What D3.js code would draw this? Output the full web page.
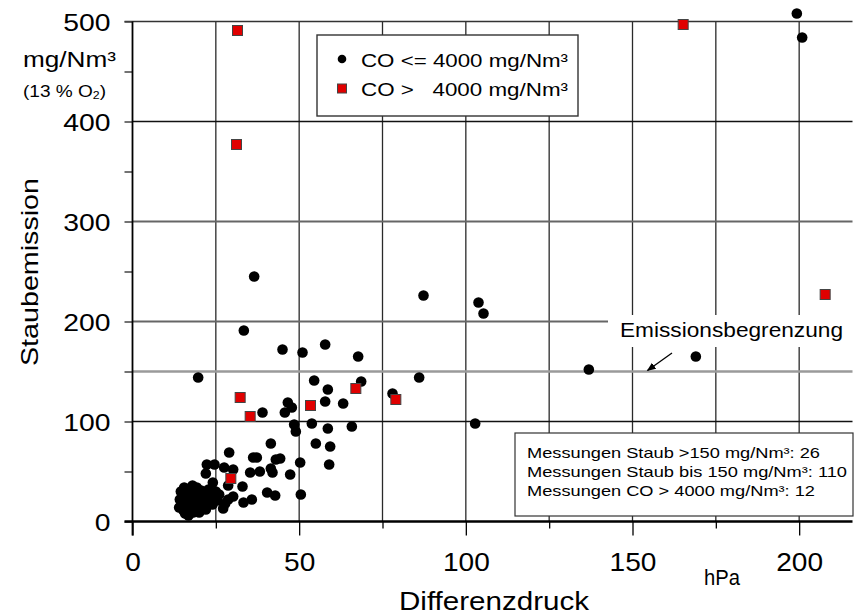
<!DOCTYPE html>
<html><head><meta charset="utf-8">
<script src="https://cdn.jsdelivr.net/npm/d3@7"></script>
<style>
body{margin:0;background:#fff}
text{font-family:"Liberation Sans",Arial,Helvetica,sans-serif;fill:#000}
</style></head><body>
<svg id="c" width="856" height="616"></svg>
<script>
// ---- data ----
const xMajorTicks = [0, 50, 100, 150, 200];
const xMinorTicks = [25, 75, 125, 175];
const xGridValues = [25, 50, 75, 100, 125, 150, 175, 200];
const yLabelTicks = [0, 100, 200, 300, 400, 500];
const yTickValues = [0, 50, 100, 150, 200, 250, 300, 350, 400, 450, 500];
const yGridBlack = [100, 400];
const yGridGray = [200, 300];
const limitValue = 150;
const xTitle = "Differenzdruck";
const xUnit = "hPa";
const yTitle = "Staubemission";
const yUnit = "mg/Nm³";
const limitLabel = "Emissionsbegrenzung";
const legendLabels = ["CO <= 4000 mg/Nm³", "CO >   4000 mg/Nm³"];
const statsLines = [
  "Messungen Staub >150 mg/Nm³: 26",
  "Messungen Staub bis 150 mg/Nm³: 110",
  "Messungen CO > 4000 mg/Nm³: 12"
];
// CO <= 4000 : [Differenzdruck hPa, Staub mg/Nm³]
const lowCO = [
  [199.3,508],[200.9,484],[87.3,226],[103.8,219],[105.3,208],[169,165],[136.9,152],[86,144],[102.8,98],
  [36.5,245],[33.4,191],[45,172],[51,169],[57.8,177],[67.7,165],[19.7,144],[54.5,141],[68.6,140],
  [58.6,132],[78,128],[57.8,120],[63.2,118],[46.6,119],[47.8,114],[45.7,109],[39,109],[48.5,97],
  [53.8,98],[58.6,93],[49,90],[65.8,95],[55,78],[59.3,75],[50.3,59],[59,57],[47.3,47],[50.5,27],[44.3,63],
  [41.5,78],[29,69],[36.2,64],[37.3,64],[43,62],[24.6,57],[27.5,54],[30.2,52],[35.3,49],[38.2,50],
  [41.5,53],[42,49],[24.1,39],[28.7,36],[33,35],[25.2,27],[30.2,25],[28.7,22],[33.3,19],[35.8,22],
  [40.4,29],[42.8,26],[27.2,13],[27.8,18],[22.3,57],[22,48],
  [14,14],[14.2,22],[14.5,30],[14.8,18],[15,26],[15.3,11],[15.5,34],[15.8,8],[16,20],[16.2,15],
  [16.5,28],[16.8,6],[17,24],[17.2,33],[17.5,12],[17.8,18],[18,30],[18.2,9],[18.5,22],[18.8,15],
  [19,27],[19.3,34],[19.6,12],[20,19],[20.3,25],[20.6,31],[21,15],[21.3,22],[21.6,28],[22,18],
  [22.4,25],[22.8,32],[23.2,21],[23.6,27],[24,17],[24.5,24],[25,30],[25.5,21],[26,27],[20,9],[18,36],[22,12]
];
// CO > 4000
const highCO = [
  [31.5,491],[31.2,377],[165.2,497],[207.8,227],[32.3,124],[35.3,105],[53.4,116],[67,133],[79,122],[29.5,43]
];

// ---- chart ----
const svg = d3.select("#c");
const L = 132.5, R = 852.5, T = 21.5, B = 521.5;
const x = d3.scaleLinear().domain([0, 216]).range([L, R]);
const y = d3.scaleLinear().domain([0, 500]).range([B, T]);

function stretch(sel, k) {
  sel.each(function () {
    const w = this.getComputedTextLength();
    this.setAttribute("textLength", w * k);
    this.setAttribute("lengthAdjust", "spacingAndGlyphs");
  });
}
function fitWidth(sel, w) {
  sel.attr("textLength", w).attr("lengthAdjust", "spacingAndGlyphs");
}

// vertical grid
svg.append("g").selectAll("line").data(xGridValues).join("line")
  .attr("x1", d => x(d)).attr("x2", d => x(d)).attr("y1", T).attr("y2", B)
  .attr("stroke", "#2a2a2a").attr("stroke-width", 1.3);
// horizontal grid
svg.append("g").selectAll("line").data(yGridGray).join("line")
  .attr("x1", L).attr("x2", R).attr("y1", d => y(d)).attr("y2", d => y(d))
  .attr("stroke", "#666").attr("stroke-width", 2);
svg.append("g").selectAll("line").data(yGridBlack).join("line")
  .attr("x1", L).attr("x2", R).attr("y1", d => y(d)).attr("y2", d => y(d))
  .attr("stroke", "#111").attr("stroke-width", 1.6);
// top frame
svg.append("line").attr("x1", L - 8).attr("x2", R).attr("y1", y(500)).attr("y2", y(500))
  .attr("stroke", "#333").attr("stroke-width", 1.6);
// limit line
svg.append("line").attr("x1", L).attr("x2", R).attr("y1", y(limitValue)).attr("y2", y(limitValue))
  .attr("stroke", "#9a9a9a").attr("stroke-width", 2.6);

// limit label with white background
svg.append("rect").attr("x", 608).attr("y", 315).attr("width", 250).attr("height", 32).attr("fill", "#fff");
svg.append("text").attr("x", 620).attr("y", 337).attr("font-size", 20).text(limitLabel)
  .call(fitWidth, 223);
// arrow
svg.append("defs").append("marker").attr("id", "ah").attr("viewBox", "0 0 10 10")
  .attr("refX", 9).attr("refY", 5).attr("markerWidth", 9).attr("markerHeight", 9)
  .attr("markerUnits", "userSpaceOnUse").attr("orient", "auto")
  .append("path").attr("d", "M0,1 L10,5 L0,9 Z").attr("fill", "#000");
svg.append("line").attr("x1", 672).attr("y1", 353).attr("x2", x(154.5)).attr("y2", y(limitValue) - 1)
  .attr("stroke", "#000").attr("stroke-width", 1.3).attr("marker-end", "url(#ah)");

// axes
const yAxis = d3.axisLeft(y).tickValues(yTickValues).tickSize(8).tickPadding(14)
  .tickFormat(d => yLabelTicks.includes(d) ? d : "");
const gy = svg.append("g").attr("transform", `translate(${L},0)`).call(yAxis);
gy.select(".domain").remove();
gy.selectAll(".tick line").attr("stroke", "#444").attr("stroke-width", 1.5);
gy.selectAll(".tick text").attr("font-size", 24).attr("font-family", null).attr("dy", "0.36em").call(stretch, 1.18);
svg.append("line").attr("x1", L).attr("x2", L).attr("y1", T).attr("y2", B + 14)
  .attr("stroke", "#000").attr("stroke-width", 1.8);

const xAxis = d3.axisBottom(x).tickValues(xMajorTicks).tickSize(14).tickPadding(17);
const gx = svg.append("g").attr("transform", `translate(0,${B})`).call(xAxis);
gx.select(".domain").remove();
gx.selectAll(".tick line").attr("stroke", "#000").attr("stroke-width", 1.3);
gx.selectAll(".tick text").attr("font-size", 26).attr("font-family", null).call(stretch, 1.08);
const xAxisMinor = d3.axisBottom(x).tickValues(xMinorTicks).tickSize(7).tickFormat("");
const gx2 = svg.append("g").attr("transform", `translate(0,${B})`).call(xAxisMinor);
gx2.select(".domain").remove();
gx2.selectAll(".tick line").attr("stroke", "#000").attr("stroke-width", 1.3);
svg.append("line").attr("x1", L - 8).attr("x2", R).attr("y1", B).attr("y2", B)
  .attr("stroke", "#000").attr("stroke-width", 2.4);

// axis titles
svg.append("text").attr("x", 494).attr("y", 610).attr("text-anchor", "middle").attr("font-size", 25)
  .text(xTitle).call(fitWidth, 190);
svg.append("text").attr("x", 722).attr("y", 585).attr("text-anchor", "middle").attr("font-size", 22)
  .text(xUnit).call(fitWidth, 36);
svg.append("text").attr("transform", "translate(38,272) rotate(-90)").attr("text-anchor", "middle")
  .attr("font-size", 24).text(yTitle).call(fitWidth, 188);
svg.append("text").attr("x", 116).attr("y", 67).attr("text-anchor", "end").attr("font-size", 22)
  .text(yUnit).call(fitWidth, 93);
const sub = svg.append("text").attr("x", 23).attr("y", 97).attr("font-size", 17);
sub.append("tspan").text("(13 % O");
sub.append("tspan").attr("font-size", 11).attr("dy", 2).text("2");
sub.append("tspan").attr("dy", -2).text(")");
sub.call(stretch, 1.12);

// points
svg.append("g").selectAll("circle").data(lowCO).join("circle")
  .attr("cx", d => x(d[0])).attr("cy", d => y(d[1])).attr("r", 5.3).attr("fill", "#000");
const sq = 10;
svg.append("g").selectAll("rect").data(highCO).join("rect")
  .attr("x", d => x(d[0]) - sq / 2).attr("y", d => y(d[1]) - sq / 2)
  .attr("width", sq).attr("height", sq)
  .attr("fill", "#e00000").attr("stroke", "#444").attr("stroke-width", 1);

// legend
const lg = svg.append("g");
lg.append("rect").attr("x", 317).attr("y", 35).attr("width", 261).attr("height", 81)
  .attr("fill", "#fff").attr("stroke", "#333").attr("stroke-width", 1.4);
lg.append("circle").attr("cx", 342).attr("cy", 59).attr("r", 4.3).attr("fill", "#000");
lg.append("rect").attr("x", 337.5).attr("y", 84).attr("width", 9).attr("height", 9)
  .attr("fill", "#e00000").attr("stroke", "#444").attr("stroke-width", 1);
lg.selectAll("text.lgt").data(legendLabels).join("text").attr("class", "lgt")
  .attr("x", 361).attr("y", (d, i) => 67 + i * 29).attr("font-size", 17.5)
  .style("white-space", "pre").text(d => d).call(fitWidth, 207);

// stats box
const sb = svg.append("g");
sb.append("rect").attr("x", 515).attr("y", 433).attr("width", 338).attr("height", 83)
  .attr("fill", "#fff").attr("stroke", "#333").attr("stroke-width", 1.2);
const statW = [293, 320, 288];
sb.selectAll("text").data(statsLines).join("text")
  .attr("x", 527).attr("y", (d, i) => 458 + i * 19).attr("font-size", 14.5)
  .text(d => d).each(function (d, i) { d3.select(this).call(fitWidth, statW[i]); });
</script>
</body></html>
